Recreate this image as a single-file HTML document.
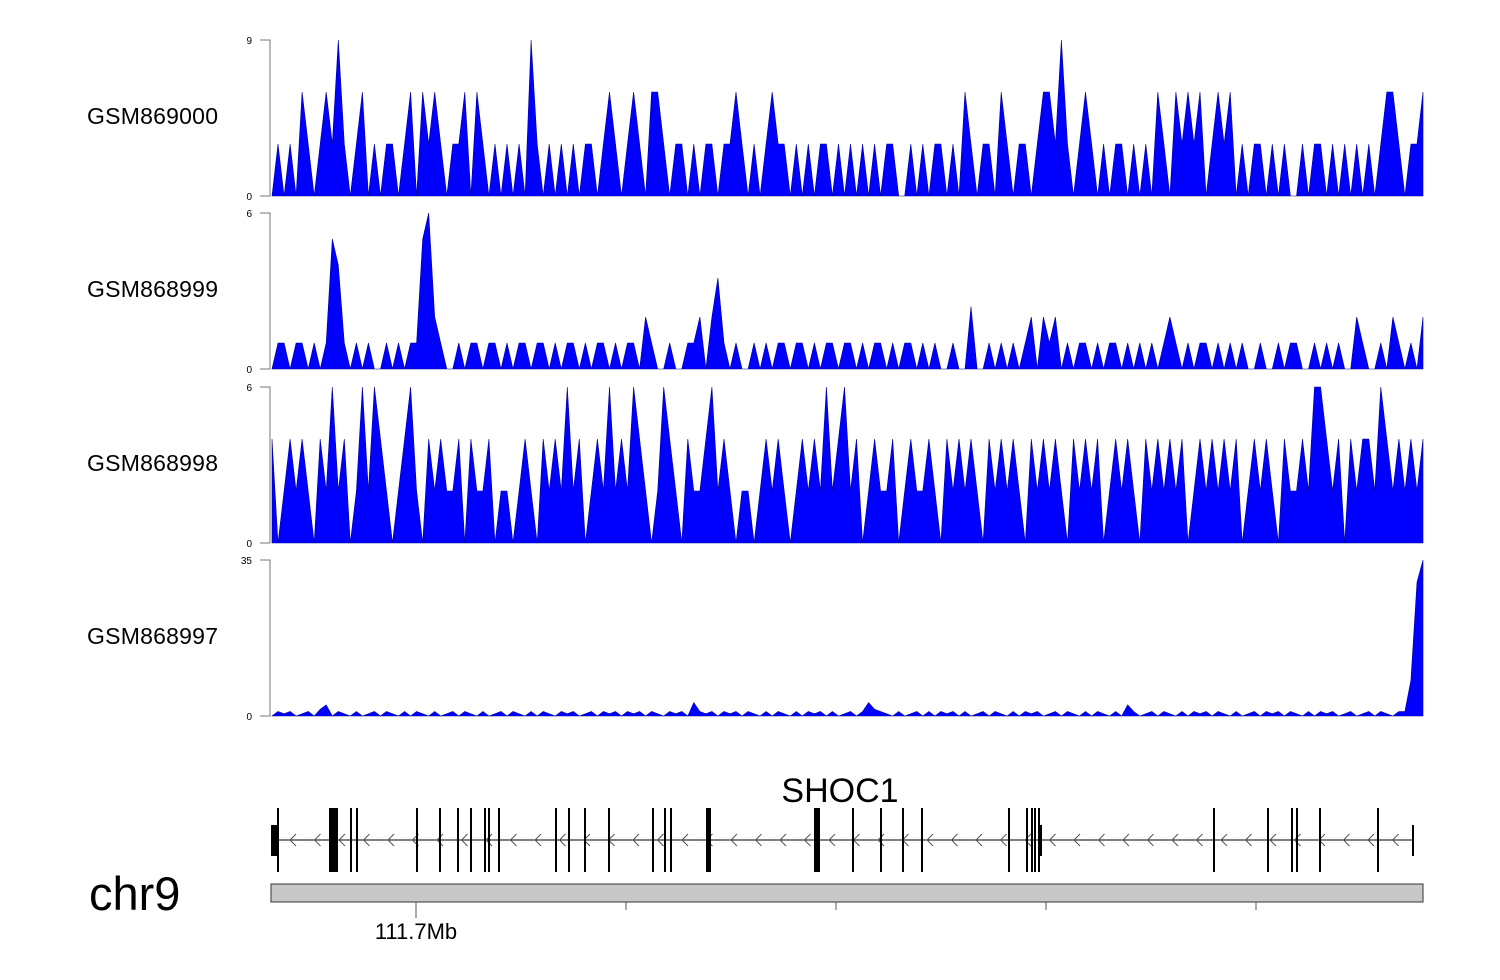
<!DOCTYPE html>
<html><head><meta charset="utf-8"><style>
html,body{margin:0;padding:0;background:#fff;}
svg{display:block;font-family:"Liberation Sans",sans-serif;}
</style></head><body>
<svg id="chart" width="1500" height="980" viewBox="0 0 1500 980" xmlns="http://www.w3.org/2000/svg">
<g id="tracks"></g>
<g id="gene"></g>
<text x="840" y="802" font-size="34" text-anchor="middle">SHOC1</text>
<text x="89" y="910" font-size="47">chr9</text>
<rect x="271" y="884" width="1152" height="18" fill="#c8c8c8" stroke="#333" stroke-width="1"/>
<g id="axis"></g>
</svg>
<script>
const trackNames = ["GSM869000","GSM868999","GSM868998","GSM868997"];
const trackMax = [9,6,6,35];
const t1 = [0,3,0,3,0,6,3,0,3,6, 3,9,3,0,3,6,0,3,0,3, 3,0,3,6,0,6,3,6,3,0, 3,3,6,0,6,3,0,3,0,3,
0,3,0,9,3,0,3,0,3,0, 3,0,3,3,0,3,6,3,0,3, 6,3,0,6,6,3,0,3,3,0, 3,0,3,3,0,3,3,6,3,0,
3,0,3,6,3,3,0,3,0,3, 0,3,3,0,3,0,3,0,3,0, 3,0,3,3,0,0,3,0,3,0, 3,3,0,3,0,6,3,0,3,3,
0,6,3,0,3,3,0,3,6,6, 3,9,3,0,3,6,3,0,3,0, 3,3,0,3,0,3,0,6,3,0, 6,3,6,3,6,0,3,6,3,6,
0,3,0,3,3,0,3,0,3,0, 0,3,0,3,3,0,3,0,3,0, 3,0,3,0,3,6,6,3,0,3, 3,6];
const t2 = [0,1,1,0,1,1,0,1,0,1, 5,4,1,0,1,0,1,0,0,1, 0,1,0,1,1,5,6,2,1,0, 0,1,0,1,1,0,1,1,0,1,
0,1,1,0,1,1,0,1,0,1, 1,0,1,0,1,1,0,1,0,1, 1,0,2,1,0,0,1,0,0,1, 1,2,0,2,3.5,1,0,1,0,0,
1,0,1,0,1,1,0,1,1,0, 1,0,1,1,0,1,1,0,1,0, 1,1,0,1,0,1,1,0,1,0, 1,0,0,1,0,0,2.4,0,0,1,
0,1,0,1,0,1,2,0,2,1, 2,0,1,0,1,1,0,1,0,1, 1,0,1,0,1,0,1,0,1,2, 1,0,1,0,1,1,0,1,0,1,
0,1,0,0,1,0,0,1,0,1, 1,0,0,1,0,1,0,1,0,0, 2,1,0,0,1,0,2,1,0,1, 0,2];
const t3 = [4,0,2,4,2,4,2,0,4,2, 6,2,4,0,2,6,2,6,4,2, 0,2,4,6,2,0,4,2,4,2, 2,4,0,4,2,2,4,0,2,2,
0,2,4,2,0,4,2,4,2,6, 2,4,0,2,4,2,6,2,4,2, 6,4,2,0,2,6,4,2,0,4, 2,2,4,6,2,4,2,0,2,2,
0,2,4,2,4,2,0,2,4,2, 4,2,6,2,4,6,2,4,0,2, 4,2,2,4,0,2,4,2,2,4, 2,0,4,2,4,2,4,2,0,4,
2,4,2,4,2,0,4,2,4,2, 4,2,0,4,2,4,2,4,0,2, 4,2,4,2,0,4,2,4,2,4, 2,4,0,2,4,2,4,2,4,2,
4,0,2,4,2,4,2,0,4,2, 2,4,2,6,6,4,2,4,0,4, 2,4,4,2,6,4,2,4,2,4, 2,4];
const t4 = [0,1,0.5,1,0,0.5,1,0,1.5,2.5, 0,1,0.5,0,1,0,0.5,1,0,1, 0.5,0,1,0,1,0.5,0,1,0,0.5, 1,0,1,0.5,0,1,0,0.5,1,0,
1,0.5,0,1,0,1,0.5,0,1,0.5, 1,0,0.5,1,0,1,0.5,1,0,1, 0.5,1,0,1,0.5,0,1,0.5,1,0, 3,1,0.5,1,0,1,0.5,1,0,1,
0.5,0,1,0,1,0.5,0,1,0,1, 0.5,1,0,1,0,0.5,1,0,1,3, 1.5,1,0.5,0,1,0,0.5,1,0,1, 0,1,0.5,1,0,1,0,0.5,1,0,
1,0.5,0,1,0,1,0.5,1,0,0.5, 1,0,1,0.5,0,1,0,1,0.5,0, 1,0,2.5,1,0,0.5,1,0,1,0.5, 0,1,0,1,0.5,1,0,1,0.5,0,
1,0,0.5,1,0,1,0.5,1,0,1, 0.5,0,1,0,1,0.5,1,0,0.5,1, 0,0.5,1,0,1,0.5,0,1,1,8, 30,35];
const series = [t1,t2,t3,t4];
const exonStarts = [271,329,350,356,416,439,457,470,484,488,498,555,568,584,608,652,664,670,706,814,852,880,902,921,1008,1026,1031,1034,1038,1213,1267,1291,1296,1319,1377,1412];
const exonWidths = [6,9,2,2,2,2,2,2,2,2,2,2,2,2,2,2,2,2,5,6,2,2,2,2,2,2,2,2,4,2,2,2,2,2,2,2];
const exonTall = [0,1,1,1,1,1,1,1,1,1,1,1,1,1,1,1,1,1,1,1,1,1,1,1,1,1,1,1,0,1,1,1,1,1,1,0];
const axisTicks = [416,626,836,1046,1256];
const axisLabels = ["111.7Mb","","","",""];

const NS="http://www.w3.org/2000/svg";
function mk(tag,attrs,parent){const e=document.createElementNS(NS,tag);for(const k in attrs)e.setAttribute(k,attrs[k]);parent.appendChild(e);return e;}
const X0=272,X1=1423;
const tops=[40,213,387,560],H=156;
const tg=document.getElementById('tracks');
series.forEach((vals,ti)=>{
  const top=tops[ti],base=top+H,max=trackMax[ti];
  const xs=i=>X0+(X1-X0)*i/(vals.length-1);
  const ys=v=>base-H*v/max;
  const g=mk('g',{},tg);
  
  
  let pts=X0+','+base+' ';
  vals.forEach((v,i)=>{pts+=xs(i).toFixed(1)+','+ys(v).toFixed(1)+' ';});
  pts+=X1+','+base;
  const p=mk('polygon',{points:pts,fill:'#0000ff',stroke:'#00009a','stroke-width':'0.6'},g);
  
  
  const ax=mk('path',{d:`M260 ${top}H270V${base}H260`,fill:'none',stroke:'#777','stroke-width':'1'},g);
  
  
  const tl=mk('text',{x:252,y:top+4,'font-size':'10','text-anchor':'end'},g);tl.textContent=max;
  
  
  const bl=mk('text',{x:252,y:base+4,'font-size':'10','text-anchor':'end'},g);bl.textContent='0';
  
  
  const lab=mk('text',{x:87,y:top+H/2+6,'font-size':'23','textLength':'131'},g);lab.textContent=trackNames[ti];
  
  
});
const gg=document.getElementById('gene');
mk('line',{x1:277,y1:840,x2:1413,y2:840,stroke:'#000','stroke-width':'1'},gg);
for(let x=290;x<1412;x+=24.5){
  const c=mk('path',{d:`M${x+6} 834L${x} 840L${x+6} 846`,fill:'none',stroke:'#555','stroke-width':'1'},gg);
  
  
}
exonStarts.forEach((x,i)=>{
  const w=exonWidths[i];
  const r=mk('rect',{x:x,y:exonTall[i]?808:825,width:w,height:exonTall[i]?64:31,fill:'#000'},gg);
  
  
});
mk('rect',{x:277,y:808,width:2,height:64,fill:'#000'},gg);
mk('rect',{x:1038,y:808,width:2,height:64,fill:'#000'},gg);
const ag=document.getElementById('axis');
axisTicks.forEach((x,i)=>{
  const t=mk('line',{x1:x,y1:902,x2:x,y2:i===0?918:910,stroke:'#555','stroke-width':'1'},ag);
  
  
  if(axisLabels[i]){
    const l=mk('text',{x:x,y:939,'font-size':'22','text-anchor':'middle'},ag);l.textContent=axisLabels[i];
    
    
  }
});
</script>
</body></html>
